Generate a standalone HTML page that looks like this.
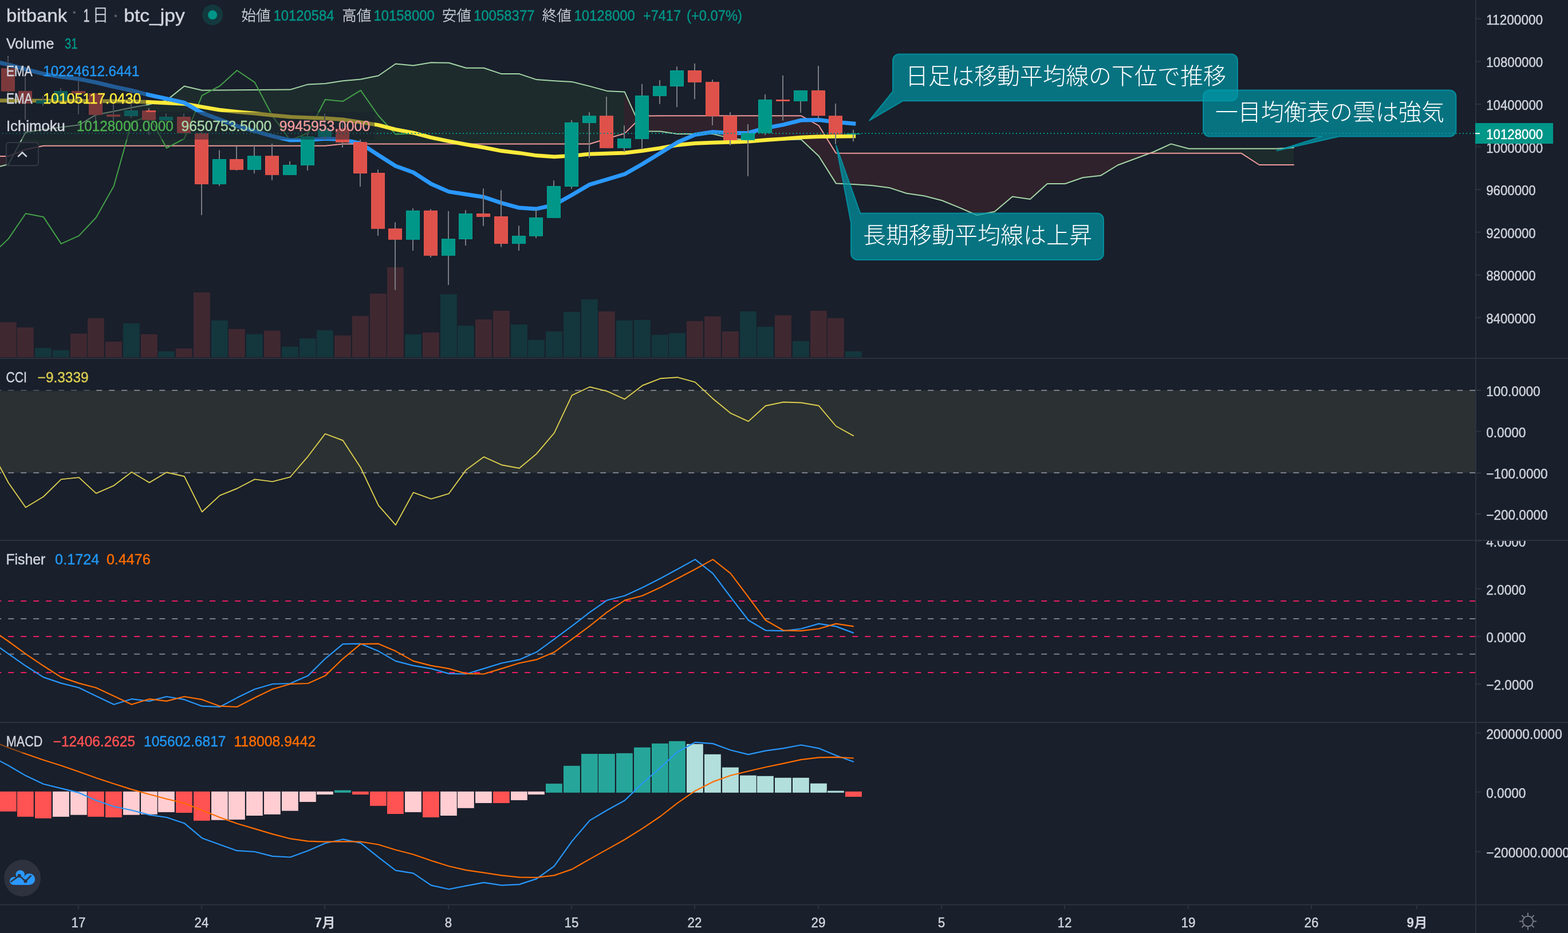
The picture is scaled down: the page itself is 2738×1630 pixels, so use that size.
<!DOCTYPE html>
<html><head><meta charset="utf-8"><title>bitbank btc_jpy</title>
<style>
html,body{margin:0;padding:0;background:#191f2b;}
body{width:2738px;height:1630px;overflow:hidden;}
svg{display:block;will-change:transform;font-family:"Liberation Sans",sans-serif;}
</style></head><body>
<svg width="2738" height="1630" viewBox="0 0 2738 1630">
<defs>
<clipPath id="cp0"><rect x="0" y="0" width="2576" height="625"/></clipPath>
<clipPath id="cp1"><rect x="0" y="627" width="2576" height="316"/></clipPath>
<clipPath id="cp2"><rect x="0" y="945" width="2576" height="316"/></clipPath>
<clipPath id="cp3"><rect x="0" y="1263" width="2576" height="317"/></clipPath>
<clipPath id="cpa2"><rect x="2577" y="945" width="200" height="316"/></clipPath>
</defs>
<rect width="2738" height="1630" fill="#191f2b"/>
<g clip-path="url(#cp0)">
<polygon points="-17.0,294.9 14.0,287.0 14.0,273.0 -17.0,273.0" fill="rgba(244,67,54,0.1)"/>
<polygon points="14.0,287.0 44.0,231.0 75.0,226.5 106.0,222.3 137.0,218.3 167.0,200.4 198.0,194.5 229.0,187.9 260.0,182.4 290.0,175.4 321.0,150.5 352.0,157.7 383.0,157.5 413.0,157.3 444.0,157.0 475.0,156.8 506.0,156.6 537.0,147.4 567.0,146.0 598.0,141.2 629.0,138.5 660.0,132.2 690.0,111.5 721.0,114.4 752.0,109.2 783.0,109.8 813.0,118.8 844.0,118.8 875.0,129.1 906.0,129.1 936.0,139.1 967.0,141.2 998.0,142.9 1029.0,150.6 1059.0,158.9 1090.0,160.6 1090.0,233.1 1059.0,242.3 1029.0,251.5 998.0,251.5 967.0,251.5 936.0,251.5 906.0,251.5 875.0,251.5 844.0,251.5 813.0,251.5 783.0,251.5 752.0,251.5 721.0,251.5 690.0,251.5 660.0,251.5 629.0,251.5 598.0,251.5 567.0,254.8 537.0,254.8 506.0,254.8 475.0,254.8 444.0,254.8 413.0,254.8 383.0,254.8 352.0,254.8 321.0,254.8 290.0,254.8 260.0,254.8 229.0,254.8 198.0,254.8 167.0,254.8 137.0,254.8 106.0,254.8 75.0,254.8 44.0,261.3 14.0,273.0" fill="rgba(67,160,71,0.1)"/>
<polygon points="1090.0,160.6 1121.0,229.3 1152.0,229.5 1182.0,234.1 1213.0,234.1 1244.0,234.1 1275.0,241.5 1306.0,245.0 1336.0,245.0 1367.0,244.6 1398.0,243.5 1429.0,272.8 1459.0,320.4 1490.0,322.0 1521.0,324.0 1552.0,327.9 1582.0,337.7 1613.0,342.3 1644.0,350.3 1675.0,362.9 1705.0,376.0 1736.0,369.8 1767.0,343.5 1798.0,348.0 1828.0,321.0 1859.0,321.0 1890.0,310.2 1921.0,306.8 1951.0,288.5 1982.0,277.0 2013.0,265.5 2013.0,267.8 1982.0,267.8 1951.0,267.8 1921.0,267.8 1890.0,267.8 1859.0,267.8 1828.0,267.8 1798.0,267.8 1767.0,267.8 1736.0,267.8 1705.0,267.8 1675.0,267.8 1644.0,267.8 1613.0,267.8 1582.0,267.8 1552.0,267.8 1521.0,267.8 1490.0,267.8 1459.0,267.6 1429.0,219.5 1398.0,202.2 1367.0,202.2 1336.0,202.2 1306.0,202.2 1275.0,202.2 1244.0,202.2 1213.0,202.2 1182.0,202.2 1152.0,202.2 1121.0,202.4 1090.0,233.1" fill="rgba(244,67,54,0.1)"/>
<polygon points="2013.0,265.5 2044.0,251.4 2075.0,259.8 2105.0,259.8 2136.0,259.8 2167.0,259.8 2198.0,259.8 2228.0,259.8 2259.0,258.0 2259.0,288.0 2228.0,288.0 2198.0,288.0 2167.0,267.8 2136.0,267.8 2105.0,267.8 2075.0,267.8 2044.0,267.8 2013.0,267.8" fill="rgba(67,160,71,0.1)"/>
<rect x="0.0" y="562.9" width="28.8" height="61.1" fill="rgba(222,82,75,0.2)"/>
<rect x="30.0" y="571.9" width="28.8" height="52.1" fill="rgba(222,82,75,0.2)"/>
<rect x="61.0" y="607.8" width="28.8" height="16.2" fill="rgba(0,150,136,0.2)"/>
<rect x="92.0" y="611.7" width="28.8" height="12.3" fill="rgba(0,150,136,0.2)"/>
<rect x="123.0" y="582.8" width="28.8" height="41.2" fill="rgba(222,82,75,0.2)"/>
<rect x="153.0" y="555.8" width="28.8" height="68.2" fill="rgba(222,82,75,0.2)"/>
<rect x="184.0" y="596.9" width="28.8" height="27.1" fill="rgba(222,82,75,0.2)"/>
<rect x="215.0" y="564.8" width="28.8" height="59.2" fill="rgba(0,150,136,0.2)"/>
<rect x="246.0" y="584.0" width="28.8" height="40.0" fill="rgba(222,82,75,0.2)"/>
<rect x="276.0" y="613.8" width="28.8" height="10.2" fill="rgba(0,150,136,0.2)"/>
<rect x="307.0" y="608.8" width="28.8" height="15.2" fill="rgba(222,82,75,0.2)"/>
<rect x="338.0" y="511.0" width="28.8" height="113.0" fill="rgba(222,82,75,0.2)"/>
<rect x="369.0" y="559.8" width="28.8" height="64.2" fill="rgba(0,150,136,0.2)"/>
<rect x="399.0" y="574.8" width="28.8" height="49.2" fill="rgba(222,82,75,0.2)"/>
<rect x="430.0" y="583.8" width="28.8" height="40.2" fill="rgba(0,150,136,0.2)"/>
<rect x="461.0" y="577.7" width="28.8" height="46.3" fill="rgba(222,82,75,0.2)"/>
<rect x="492.0" y="605.7" width="28.8" height="18.3" fill="rgba(0,150,136,0.2)"/>
<rect x="523.0" y="591.1" width="28.8" height="32.9" fill="rgba(0,150,136,0.2)"/>
<rect x="553.0" y="576.9" width="28.8" height="47.1" fill="rgba(0,150,136,0.2)"/>
<rect x="584.0" y="586.1" width="28.8" height="37.9" fill="rgba(222,82,75,0.2)"/>
<rect x="615.0" y="552.1" width="28.8" height="71.9" fill="rgba(222,82,75,0.2)"/>
<rect x="646.0" y="512.9" width="28.8" height="111.1" fill="rgba(222,82,75,0.2)"/>
<rect x="676.0" y="467.0" width="28.8" height="157.0" fill="rgba(222,82,75,0.2)"/>
<rect x="707.0" y="584.0" width="28.8" height="40.0" fill="rgba(0,150,136,0.2)"/>
<rect x="738.0" y="580.9" width="28.8" height="43.1" fill="rgba(222,82,75,0.2)"/>
<rect x="769.0" y="513.9" width="28.8" height="110.1" fill="rgba(0,150,136,0.2)"/>
<rect x="799.0" y="569.0" width="28.8" height="55.0" fill="rgba(0,150,136,0.2)"/>
<rect x="830.0" y="557.9" width="28.8" height="66.1" fill="rgba(222,82,75,0.2)"/>
<rect x="861.0" y="542.9" width="28.8" height="81.1" fill="rgba(222,82,75,0.2)"/>
<rect x="892.0" y="566.9" width="28.8" height="57.1" fill="rgba(0,150,136,0.2)"/>
<rect x="922.0" y="593.8" width="28.8" height="30.2" fill="rgba(0,150,136,0.2)"/>
<rect x="953.0" y="579.0" width="28.8" height="45.0" fill="rgba(0,150,136,0.2)"/>
<rect x="984.0" y="544.8" width="28.8" height="79.2" fill="rgba(0,150,136,0.2)"/>
<rect x="1015.0" y="522.9" width="28.8" height="101.1" fill="rgba(0,150,136,0.2)"/>
<rect x="1045.0" y="544.0" width="28.8" height="80.0" fill="rgba(222,82,75,0.2)"/>
<rect x="1076.0" y="559.8" width="28.8" height="64.2" fill="rgba(0,150,136,0.2)"/>
<rect x="1107.0" y="558.8" width="28.8" height="65.2" fill="rgba(0,150,136,0.2)"/>
<rect x="1138.0" y="584.8" width="28.8" height="39.2" fill="rgba(0,150,136,0.2)"/>
<rect x="1168.0" y="581.9" width="28.8" height="42.1" fill="rgba(0,150,136,0.2)"/>
<rect x="1199.0" y="560.9" width="28.8" height="63.1" fill="rgba(222,82,75,0.2)"/>
<rect x="1230.0" y="552.7" width="28.8" height="71.3" fill="rgba(222,82,75,0.2)"/>
<rect x="1261.0" y="579.0" width="28.8" height="45.0" fill="rgba(222,82,75,0.2)"/>
<rect x="1292.0" y="544.0" width="28.8" height="80.0" fill="rgba(0,150,136,0.2)"/>
<rect x="1322.0" y="570.9" width="28.8" height="53.1" fill="rgba(0,150,136,0.2)"/>
<rect x="1353.0" y="550.8" width="28.8" height="73.2" fill="rgba(222,82,75,0.2)"/>
<rect x="1384.0" y="595.9" width="28.8" height="28.1" fill="rgba(0,150,136,0.2)"/>
<rect x="1415.0" y="542.9" width="28.8" height="81.1" fill="rgba(222,82,75,0.2)"/>
<rect x="1445.0" y="555.8" width="28.8" height="68.2" fill="rgba(222,82,75,0.2)"/>
<rect x="1476.0" y="613.8" width="28.8" height="10.2" fill="rgba(0,150,136,0.2)"/>
<polyline points="-16.2,294.9 14.8,287.0 44.8,231.0 75.8,226.5 106.8,222.3 137.8,218.3 167.8,200.4 198.8,194.5 229.8,187.9 260.8,182.4 290.8,175.4 321.8,150.5 352.8,157.7 383.8,157.5 413.8,157.3 444.8,157.0 475.8,156.8 506.8,156.6 537.8,147.4 567.8,146.0 598.8,141.2 629.8,138.5 660.8,132.2 690.8,111.5 721.8,114.4 752.8,109.2 783.8,109.8 813.8,118.8 844.8,118.8 875.8,129.1 906.8,129.1 936.8,139.1 967.8,141.2 998.8,142.9 1029.8,150.6 1059.8,158.9 1090.8,160.6 1121.8,229.3 1152.8,229.5 1182.8,234.1 1213.8,234.1 1244.8,234.1 1275.8,241.5 1306.8,245.0 1336.8,245.0 1367.8,244.6 1398.8,243.5 1429.8,272.8 1459.8,320.4 1490.8,322.0 1521.8,324.0 1552.8,327.9 1582.8,337.7 1613.8,342.3 1644.8,350.3 1675.8,362.9 1705.8,376.0 1736.8,369.8 1767.8,343.5 1798.8,348.0 1828.8,321.0 1859.8,321.0 1890.8,310.2 1921.8,306.8 1951.8,288.5 1982.8,277.0 2013.8,265.5 2044.8,251.4 2075.8,259.8 2105.8,259.8 2136.8,259.8 2167.8,259.8 2198.8,259.8 2228.8,259.8 2259.8,258.0" fill="none" stroke="#a5d6a7" stroke-width="2" stroke-linejoin="round"/>
<polyline points="-16.2,273.0 14.8,273.0 44.8,261.3 75.8,254.8 106.8,254.8 137.8,254.8 167.8,254.8 198.8,254.8 229.8,254.8 260.8,254.8 290.8,254.8 321.8,254.8 352.8,254.8 383.8,254.8 413.8,254.8 444.8,254.8 475.8,254.8 506.8,254.8 537.8,254.8 567.8,254.8 598.8,251.5 629.8,251.5 660.8,251.5 690.8,251.5 721.8,251.5 752.8,251.5 783.8,251.5 813.8,251.5 844.8,251.5 875.8,251.5 906.8,251.5 936.8,251.5 967.8,251.5 998.8,251.5 1029.8,251.5 1059.8,242.3 1090.8,233.1 1121.8,202.4 1152.8,202.2 1182.8,202.2 1213.8,202.2 1244.8,202.2 1275.8,202.2 1306.8,202.2 1336.8,202.2 1367.8,202.2 1398.8,202.2 1429.8,219.5 1459.8,267.6 1490.8,267.8 1521.8,267.8 1552.8,267.8 1582.8,267.8 1613.8,267.8 1644.8,267.8 1675.8,267.8 1705.8,267.8 1736.8,267.8 1767.8,267.8 1798.8,267.8 1828.8,267.8 1859.8,267.8 1890.8,267.8 1921.8,267.8 1951.8,267.8 1982.8,267.8 2013.8,267.8 2044.8,267.8 2075.8,267.8 2105.8,267.8 2136.8,267.8 2167.8,267.8 2198.8,288.0 2228.8,288.0 2259.8,288.0" fill="none" stroke="#ef9a9a" stroke-width="2" stroke-linejoin="round"/>
<polyline points="-16.2,446.7 14.8,417.1 44.8,373.0 75.8,378.9 106.8,425.9 137.8,411.9 167.8,380.0 198.8,325.0 229.8,213.9 260.8,202.2 290.8,258.8 321.8,242.1 352.8,166.9 383.8,150.2 413.8,123.0 444.8,143.9 475.8,202.8 506.8,245.0 537.8,232.5 567.8,174.0 598.8,176.9 629.8,157.9 660.8,202.2 690.8,234.6 721.8,233.3" fill="none" stroke="#43a047" stroke-width="2" stroke-linejoin="round"/>
<polyline points="-16.2,175.6 14.8,175.6 44.8,175.8 75.8,176.0 106.8,176.2 137.8,176.4 167.8,176.6 198.8,176.8 229.8,177.2 260.8,178.4 290.8,179.8 321.8,181.4 352.8,186.8 383.8,192.1 413.8,195.3 444.8,198.2 475.8,201.3 506.8,204.2 537.8,205.5 567.8,206.6 598.8,208.9 629.8,213.5 660.8,218.5 690.8,226.3 721.8,232.1 752.8,240.3 783.8,246.7 813.8,252.4 844.8,257.6 875.8,263.7 906.8,267.3 936.8,271.7 967.8,273.8 998.8,272.0 1029.8,269.2 1059.8,268.2 1090.8,267.1 1121.8,263.4 1152.8,258.8 1182.8,253.4 1213.8,250.4 1244.8,249.2 1275.8,248.3 1306.8,247.1 1336.8,244.6 1367.8,242.5 1398.8,240.0 1429.8,238.7 1459.8,238.3 1490.8,237.9" fill="none" stroke="#ffeb3b" stroke-width="6.7" stroke-linejoin="round" stroke-linecap="square"/>
<polyline points="-16.2,106.0 14.8,112.8 44.8,121.1 75.8,129.0 106.8,134.2 137.8,138.0 167.8,144.0 198.8,151.5 229.8,158.0 260.8,166.0 290.8,172.5 321.8,179.4 352.8,197.4 383.8,208.9 413.8,220.1 444.8,229.2 475.8,237.8 506.8,244.8 537.8,244.4 567.8,242.3 598.8,243.6 629.8,250.7 660.8,271.0 690.8,290.0 721.8,301.3 752.8,321.3 783.8,334.9 813.8,339.5 844.8,344.3 875.8,354.6 906.8,363.1 936.8,364.9 967.8,358.0 998.8,340.5 1029.8,322.3 1059.8,313.5 1090.8,304.2 1121.8,286.5 1152.8,267.6 1182.8,248.8 1213.8,235.2 1244.8,230.5 1275.8,232.5 1306.8,232.2 1336.8,223.7 1367.8,217.9 1398.8,210.1 1429.8,209.5 1459.8,213.3 1490.8,216.0" fill="none" stroke="#2a98ff" stroke-width="7" stroke-linejoin="round" stroke-linecap="square"/>
<rect x="13.0" y="98.2" width="2" height="63.8" fill="#7a7b81"/>
<rect x="2.0" y="119.2" width="24" height="40.4" fill="#ea574f"/>
<rect x="3.0" y="120.2" width="22" height="38.4" fill="#de524b"/>
<rect x="43.0" y="134.9" width="2" height="74.1" fill="#7a7b81"/>
<rect x="32.0" y="158.9" width="24" height="22.0" fill="#ea574f"/>
<rect x="33.0" y="159.9" width="22" height="20.0" fill="#de524b"/>
<rect x="74.0" y="168.3" width="2" height="16.7" fill="#7a7b81"/>
<rect x="63.0" y="175.2" width="24" height="5.7" fill="#00a595"/>
<rect x="64.0" y="176.2" width="22" height="3.7" fill="#009688"/>
<rect x="105.0" y="153.7" width="2" height="21.9" fill="#7a7b81"/>
<rect x="94.0" y="159.0" width="24" height="16.6" fill="#00a595"/>
<rect x="95.0" y="160.0" width="22" height="14.6" fill="#009688"/>
<rect x="136.0" y="141.2" width="2" height="58.5" fill="#7a7b81"/>
<rect x="125.0" y="159.0" width="24" height="4.5" fill="#ea574f"/>
<rect x="126.0" y="160.0" width="22" height="2.5" fill="#de524b"/>
<rect x="166.0" y="163.1" width="2" height="65.8" fill="#7a7b81"/>
<rect x="155.0" y="163.1" width="24" height="37.6" fill="#ea574f"/>
<rect x="156.0" y="164.1" width="22" height="35.6" fill="#de524b"/>
<rect x="197.0" y="179.8" width="2" height="31.4" fill="#7a7b81"/>
<rect x="186.0" y="200.1" width="24" height="3.8" fill="#ea574f"/>
<rect x="187.0" y="201.1" width="22" height="1.8" fill="#de524b"/>
<rect x="228.0" y="157.9" width="2" height="48.0" fill="#7a7b81"/>
<rect x="217.0" y="193.0" width="24" height="9.8" fill="#00a595"/>
<rect x="218.0" y="194.0" width="22" height="7.8" fill="#009688"/>
<rect x="259.0" y="189.2" width="2" height="46.4" fill="#7a7b81"/>
<rect x="248.0" y="193.0" width="24" height="16.7" fill="#ea574f"/>
<rect x="249.0" y="194.0" width="22" height="14.7" fill="#de524b"/>
<rect x="289.0" y="198.2" width="2" height="14.8" fill="#7a7b81"/>
<rect x="278.0" y="204.0" width="24" height="6.1" fill="#00a595"/>
<rect x="279.0" y="205.0" width="22" height="4.1" fill="#009688"/>
<rect x="320.0" y="198.2" width="2" height="34.5" fill="#7a7b81"/>
<rect x="309.0" y="204.0" width="24" height="28.7" fill="#ea574f"/>
<rect x="310.0" y="205.0" width="22" height="26.7" fill="#de524b"/>
<rect x="351.0" y="231.0" width="2" height="144.8" fill="#7a7b81"/>
<rect x="340.0" y="232.7" width="24" height="89.2" fill="#ea574f"/>
<rect x="341.0" y="233.7" width="22" height="87.2" fill="#de524b"/>
<rect x="382.0" y="262.3" width="2" height="62.7" fill="#7a7b81"/>
<rect x="371.0" y="278.0" width="24" height="43.9" fill="#00a595"/>
<rect x="372.0" y="279.0" width="22" height="41.9" fill="#009688"/>
<rect x="412.0" y="256.0" width="2" height="41.9" fill="#7a7b81"/>
<rect x="401.0" y="278.0" width="24" height="18.8" fill="#ea574f"/>
<rect x="402.0" y="279.0" width="22" height="16.8" fill="#de524b"/>
<rect x="443.0" y="253.4" width="2" height="49.7" fill="#7a7b81"/>
<rect x="432.0" y="272.2" width="24" height="24.6" fill="#00a595"/>
<rect x="433.0" y="273.2" width="22" height="22.6" fill="#009688"/>
<rect x="474.0" y="250.9" width="2" height="64.1" fill="#7a7b81"/>
<rect x="463.0" y="272.2" width="24" height="33.6" fill="#ea574f"/>
<rect x="464.0" y="273.2" width="22" height="31.6" fill="#de524b"/>
<rect x="505.0" y="281.8" width="2" height="24.0" fill="#7a7b81"/>
<rect x="494.0" y="288.0" width="24" height="17.8" fill="#00a595"/>
<rect x="495.0" y="289.0" width="22" height="15.8" fill="#009688"/>
<rect x="536.0" y="233.0" width="2" height="64.9" fill="#7a7b81"/>
<rect x="525.0" y="238.3" width="24" height="50.6" fill="#00a595"/>
<rect x="526.0" y="239.3" width="22" height="48.6" fill="#009688"/>
<rect x="566.0" y="198.2" width="2" height="45.3" fill="#7a7b81"/>
<rect x="555.0" y="225.8" width="24" height="12.9" fill="#00a595"/>
<rect x="556.0" y="226.8" width="22" height="10.9" fill="#009688"/>
<rect x="597.0" y="213.0" width="2" height="44.7" fill="#7a7b81"/>
<rect x="586.0" y="224.7" width="24" height="24.1" fill="#ea574f"/>
<rect x="587.0" y="225.7" width="22" height="22.1" fill="#de524b"/>
<rect x="628.0" y="243.5" width="2" height="82.5" fill="#7a7b81"/>
<rect x="617.0" y="248.1" width="24" height="54.9" fill="#ea574f"/>
<rect x="618.0" y="249.1" width="22" height="52.9" fill="#de524b"/>
<rect x="659.0" y="296.2" width="2" height="115.7" fill="#7a7b81"/>
<rect x="648.0" y="302.0" width="24" height="97.8" fill="#ea574f"/>
<rect x="649.0" y="303.0" width="22" height="95.8" fill="#de524b"/>
<rect x="689.0" y="388.3" width="2" height="118.3" fill="#7a7b81"/>
<rect x="678.0" y="399.2" width="24" height="19.6" fill="#ea574f"/>
<rect x="679.0" y="400.2" width="22" height="17.6" fill="#de524b"/>
<rect x="720.0" y="364.0" width="2" height="73.8" fill="#7a7b81"/>
<rect x="709.0" y="367.8" width="24" height="51.0" fill="#00a595"/>
<rect x="710.0" y="368.8" width="22" height="49.0" fill="#009688"/>
<rect x="751.0" y="365.3" width="2" height="84.6" fill="#7a7b81"/>
<rect x="740.0" y="367.8" width="24" height="78.9" fill="#ea574f"/>
<rect x="741.0" y="368.8" width="22" height="76.9" fill="#de524b"/>
<rect x="782.0" y="368.9" width="2" height="129.0" fill="#7a7b81"/>
<rect x="771.0" y="417.1" width="24" height="29.6" fill="#00a595"/>
<rect x="772.0" y="418.1" width="22" height="27.6" fill="#009688"/>
<rect x="812.0" y="367.2" width="2" height="61.8" fill="#7a7b81"/>
<rect x="801.0" y="373.0" width="24" height="45.0" fill="#00a595"/>
<rect x="802.0" y="374.0" width="22" height="43.0" fill="#009688"/>
<rect x="843.0" y="329.2" width="2" height="65.8" fill="#7a7b81"/>
<rect x="832.0" y="373.0" width="24" height="5.9" fill="#ea574f"/>
<rect x="833.0" y="374.0" width="22" height="3.9" fill="#de524b"/>
<rect x="874.0" y="332.3" width="2" height="99.4" fill="#7a7b81"/>
<rect x="863.0" y="378.0" width="24" height="47.9" fill="#ea574f"/>
<rect x="864.0" y="379.0" width="22" height="45.9" fill="#de524b"/>
<rect x="905.0" y="394.2" width="2" height="43.6" fill="#7a7b81"/>
<rect x="894.0" y="411.9" width="24" height="14.0" fill="#00a595"/>
<rect x="895.0" y="412.9" width="22" height="12.0" fill="#009688"/>
<rect x="935.0" y="365.3" width="2" height="50.6" fill="#7a7b81"/>
<rect x="924.0" y="380.0" width="24" height="32.7" fill="#00a595"/>
<rect x="925.0" y="381.0" width="22" height="30.7" fill="#009688"/>
<rect x="966.0" y="315.2" width="2" height="65.6" fill="#7a7b81"/>
<rect x="955.0" y="325.0" width="24" height="55.8" fill="#00a595"/>
<rect x="956.0" y="326.0" width="22" height="53.8" fill="#009688"/>
<rect x="997.0" y="210.0" width="2" height="119.8" fill="#7a7b81"/>
<rect x="986.0" y="213.9" width="24" height="112.1" fill="#00a595"/>
<rect x="987.0" y="214.9" width="22" height="110.1" fill="#009688"/>
<rect x="1028.0" y="196.1" width="2" height="79.8" fill="#7a7b81"/>
<rect x="1017.0" y="202.2" width="24" height="12.7" fill="#00a595"/>
<rect x="1018.0" y="203.2" width="22" height="10.7" fill="#009688"/>
<rect x="1058.0" y="169.0" width="2" height="89.8" fill="#7a7b81"/>
<rect x="1047.0" y="202.2" width="24" height="56.6" fill="#ea574f"/>
<rect x="1048.0" y="203.2" width="22" height="54.6" fill="#de524b"/>
<rect x="1089.0" y="219.1" width="2" height="46.4" fill="#7a7b81"/>
<rect x="1078.0" y="242.1" width="24" height="16.7" fill="#00a595"/>
<rect x="1079.0" y="243.1" width="22" height="14.7" fill="#009688"/>
<rect x="1120.0" y="146.8" width="2" height="114.1" fill="#7a7b81"/>
<rect x="1109.0" y="166.9" width="24" height="76.0" fill="#00a595"/>
<rect x="1110.0" y="167.9" width="22" height="74.0" fill="#009688"/>
<rect x="1151.0" y="140.1" width="2" height="41.8" fill="#7a7b81"/>
<rect x="1140.0" y="150.2" width="24" height="17.7" fill="#00a595"/>
<rect x="1141.0" y="151.2" width="22" height="15.7" fill="#009688"/>
<rect x="1181.0" y="116.1" width="2" height="71.0" fill="#7a7b81"/>
<rect x="1170.0" y="123.0" width="24" height="28.0" fill="#00a595"/>
<rect x="1171.0" y="124.0" width="22" height="26.0" fill="#009688"/>
<rect x="1212.0" y="110.9" width="2" height="62.2" fill="#7a7b81"/>
<rect x="1201.0" y="123.0" width="24" height="20.9" fill="#ea574f"/>
<rect x="1202.0" y="124.0" width="22" height="18.9" fill="#de524b"/>
<rect x="1243.0" y="139.1" width="2" height="79.8" fill="#7a7b81"/>
<rect x="1232.0" y="143.1" width="24" height="59.7" fill="#ea574f"/>
<rect x="1233.0" y="144.1" width="22" height="57.7" fill="#de524b"/>
<rect x="1274.0" y="196.1" width="2" height="57.9" fill="#7a7b81"/>
<rect x="1263.0" y="202.2" width="24" height="42.8" fill="#ea574f"/>
<rect x="1264.0" y="203.2" width="22" height="40.8" fill="#de524b"/>
<rect x="1305.0" y="217.0" width="2" height="90.9" fill="#7a7b81"/>
<rect x="1294.0" y="232.5" width="24" height="12.5" fill="#00a595"/>
<rect x="1295.0" y="233.5" width="22" height="10.5" fill="#009688"/>
<rect x="1335.0" y="164.8" width="2" height="71.0" fill="#7a7b81"/>
<rect x="1324.0" y="174.0" width="24" height="58.5" fill="#00a595"/>
<rect x="1325.0" y="175.0" width="22" height="56.5" fill="#009688"/>
<rect x="1366.0" y="131.8" width="2" height="78.9" fill="#7a7b81"/>
<rect x="1355.0" y="174.0" width="24" height="2.9" fill="#ea574f"/>
<rect x="1397.0" y="157.9" width="2" height="39.1" fill="#7a7b81"/>
<rect x="1386.0" y="157.9" width="24" height="19.0" fill="#00a595"/>
<rect x="1387.0" y="158.9" width="22" height="17.0" fill="#009688"/>
<rect x="1428.0" y="115.1" width="2" height="92.9" fill="#7a7b81"/>
<rect x="1417.0" y="157.9" width="24" height="44.3" fill="#ea574f"/>
<rect x="1418.0" y="158.9" width="22" height="42.3" fill="#de524b"/>
<rect x="1458.0" y="180.9" width="2" height="71.0" fill="#7a7b81"/>
<rect x="1447.0" y="202.2" width="24" height="32.4" fill="#ea574f"/>
<rect x="1448.0" y="203.2" width="22" height="30.4" fill="#de524b"/>
<rect x="1489.0" y="226.8" width="2" height="20.3" fill="#7a7b81"/>
<rect x="1478.0" y="233.3" width="24" height="1.6" fill="#00a595"/>
<line x1="4" y1="233" x2="2577" y2="233" stroke="#009688" stroke-width="2" stroke-dasharray="2 4"/>
<path d="M1570,94.4 H2150 A11,11 0 0 1 2161,105.4 V165.2 A11,11 0 0 1 2150,176.2 H1576.8 L1518,210.6 L1559,159.7 V105.4 A11,11 0 0 1 1570,94.4 Z" fill="rgba(0,151,167,0.7)" stroke="rgba(0,160,178,0.75)" stroke-width="2" stroke-linejoin="round"/>
<text x="1581" y="147" font-size="40" font-weight="300" fill="#ffffff" font-family="'Liberation Sans','Noto Sans CJK JP',sans-serif">日足は移動平均線の下位で推移</text>
<path d="M1502.3,372.6 H1916 A11,11 0 0 1 1927,383.6 V443 A11,11 0 0 1 1916,454 H1497 A11,11 0 0 1 1486,443 V389.3 L1460,254.1 Z" fill="rgba(0,151,167,0.7)" stroke="rgba(0,160,178,0.75)" stroke-width="2" stroke-linejoin="round"/>
<text x="1507" y="425" font-size="40" font-weight="300" fill="#ffffff" font-family="'Liberation Sans','Noto Sans CJK JP',sans-serif">長期移動平均線は上昇</text>
<path d="M2112,157.4 H2531.5 A11,11 0 0 1 2542.5,168.4 V227.5 A11,11 0 0 1 2531.5,238.5 H2338.2 L2229.4,263.3 L2308.4,238.5 H2112 A11,11 0 0 1 2101,227.5 V168.4 A11,11 0 0 1 2112,157.4 Z" fill="rgba(0,151,167,0.7)" stroke="rgba(0,160,178,0.75)" stroke-width="2" stroke-linejoin="round"/>
<text x="2122" y="210" font-size="40" font-weight="300" fill="#ffffff" font-family="'Liberation Sans','Noto Sans CJK JP',sans-serif">一目均衡表の雲は強気</text>
</g>
<g clip-path="url(#cp1)">
<rect x="0" y="682" width="2577" height="144" fill="#2b3032"/>
<line x1="-7.8" y1="681.9" x2="2577" y2="681.9" stroke="#7c7f8a" stroke-width="2" stroke-dasharray="10 12"/>
<line x1="-7.8" y1="826.1" x2="2577" y2="826.1" stroke="#7c7f8a" stroke-width="2" stroke-dasharray="10 12"/>
<polyline points="-16.2,785.4 14.8,843.5 44.8,886.5 75.8,867.7 106.8,837.4 137.8,834.1 167.8,861.9 198.8,848.3 229.8,824.7 260.8,843.1 290.8,825.3 321.8,832.2 352.8,894.3 383.8,865.6 413.8,853.5 444.8,837.4 475.8,841.4 506.8,833.3 537.8,797.3 567.8,757.8 598.8,769.5 629.8,817.0 660.8,882.8 690.8,917.2 721.8,860.4 752.8,871.7 783.8,862.3 813.8,821.1 844.8,798.2 875.8,812.2 906.8,818.0 936.8,792.9 967.8,756.4 998.8,690.6 1029.8,676.0 1059.8,683.3 1090.8,697.3 1121.8,673.5 1152.8,661.3 1182.8,659.2 1213.8,667.6 1244.8,696.4 1275.8,721.9 1306.8,736.1 1336.8,709.0 1367.8,702.5 1398.8,703.5 1429.8,708.8 1459.8,744.5 1490.8,761.6" fill="none" stroke="#dbce4f" stroke-width="1.9" stroke-linejoin="round"/>
</g>
<g clip-path="url(#cp2)">
<line x1="-7.8" y1="1050" x2="2577" y2="1050" stroke="#e91e63" stroke-width="2" stroke-dasharray="10 12"/>
<line x1="-7.8" y1="1081" x2="2577" y2="1081" stroke="#7c7f8a" stroke-width="2" stroke-dasharray="10 12"/>
<line x1="-7.8" y1="1111.9" x2="2577" y2="1111.9" stroke="#e91e63" stroke-width="2" stroke-dasharray="10 12"/>
<line x1="-7.8" y1="1142.8" x2="2577" y2="1142.8" stroke="#7c7f8a" stroke-width="2" stroke-dasharray="10 12"/>
<line x1="-7.8" y1="1175" x2="2577" y2="1175" stroke="#e91e63" stroke-width="2" stroke-dasharray="10 12"/>
<polyline points="-16.2,1120.5 14.8,1142.4 44.8,1163.3 75.8,1183.1 106.8,1193.6 137.8,1201.5 167.8,1215.9 198.8,1230.8 229.8,1221.2 260.8,1224.9 290.8,1217.0 321.8,1222.2 352.8,1233.7 383.8,1235.0 413.8,1219.1 444.8,1204.0 475.8,1195.0 506.8,1194.0 537.8,1180.6 567.8,1150.8 598.8,1125.1 629.8,1124.7 660.8,1137.6 690.8,1154.9 721.8,1162.9 752.8,1168.1 783.8,1176.9 813.8,1177.5 844.8,1168.1 875.8,1158.5 906.8,1152.4 936.8,1139.3 967.8,1116.7 998.8,1093.7 1029.8,1069.7 1059.8,1048.8 1090.8,1040.7 1121.8,1026.5 1152.8,1010.8 1182.8,994.5 1213.8,977.4 1244.8,1001.8 1275.8,1043.2 1306.8,1083.5 1336.8,1101.3 1367.8,1102.1 1398.8,1098.5 1429.8,1089.6 1459.8,1094.4 1490.8,1105.9" fill="none" stroke="#2797fb" stroke-width="2.2" stroke-linejoin="round"/>
<polyline points="-16.2,1099.0 14.8,1120.5 44.8,1142.4 75.8,1163.3 106.8,1183.1 137.8,1193.6 167.8,1201.5 198.8,1215.9 229.8,1230.8 260.8,1221.2 290.8,1224.9 321.8,1217.0 352.8,1222.2 383.8,1233.7 413.8,1235.0 444.8,1219.1 475.8,1204.0 506.8,1195.0 537.8,1194.0 567.8,1180.6 598.8,1150.8 629.8,1125.1 660.8,1124.7 690.8,1137.6 721.8,1154.9 752.8,1162.9 783.8,1168.1 813.8,1176.9 844.8,1177.5 875.8,1168.1 906.8,1158.5 936.8,1152.4 967.8,1139.3 998.8,1116.7 1029.8,1093.7 1059.8,1069.7 1090.8,1048.8 1121.8,1040.7 1152.8,1026.5 1182.8,1010.8 1213.8,994.5 1244.8,977.4 1275.8,1001.8 1306.8,1043.2 1336.8,1083.5 1367.8,1101.3 1398.8,1102.1 1429.8,1098.5 1459.8,1089.6 1490.8,1094.4" fill="none" stroke="#ff6d00" stroke-width="2.2" stroke-linejoin="round"/>
</g>
<g clip-path="url(#cp3)">
<rect x="0.0" y="1382.8" width="28.8" height="34.9" fill="#ff5252"/>
<rect x="30.0" y="1382.8" width="28.8" height="44.1" fill="#ff5252"/>
<rect x="61.0" y="1382.8" width="28.8" height="46.9" fill="#ff5252"/>
<rect x="92.0" y="1382.8" width="28.8" height="44.1" fill="#ffcdd2"/>
<rect x="123.0" y="1382.8" width="28.8" height="40.9" fill="#ffcdd2"/>
<rect x="153.0" y="1382.8" width="28.8" height="44.1" fill="#ff5252"/>
<rect x="184.0" y="1382.8" width="28.8" height="45.2" fill="#ff5252"/>
<rect x="215.0" y="1382.8" width="28.8" height="40.9" fill="#ffcdd2"/>
<rect x="246.0" y="1382.8" width="28.8" height="40.0" fill="#ffcdd2"/>
<rect x="276.0" y="1382.8" width="28.8" height="36.1" fill="#ffcdd2"/>
<rect x="307.0" y="1382.8" width="28.8" height="37.2" fill="#ff5252"/>
<rect x="338.0" y="1382.8" width="28.8" height="51.0" fill="#ff5252"/>
<rect x="369.0" y="1382.8" width="28.8" height="49.9" fill="#ffcdd2"/>
<rect x="399.0" y="1382.8" width="28.8" height="49.1" fill="#ffcdd2"/>
<rect x="430.0" y="1382.8" width="28.8" height="42.2" fill="#ffcdd2"/>
<rect x="461.0" y="1382.8" width="28.8" height="40.0" fill="#ffcdd2"/>
<rect x="492.0" y="1382.8" width="28.8" height="33.8" fill="#ffcdd2"/>
<rect x="523.0" y="1382.8" width="28.8" height="18.2" fill="#ffcdd2"/>
<rect x="553.0" y="1382.8" width="28.8" height="5.3" fill="#ffcdd2"/>
<rect x="584.0" y="1380.6" width="28.8" height="4.2" fill="#26a69a"/>
<rect x="615.0" y="1382.8" width="28.8" height="5.3" fill="#ff5252"/>
<rect x="646.0" y="1382.8" width="28.8" height="25.1" fill="#ff5252"/>
<rect x="676.0" y="1382.8" width="28.8" height="39.2" fill="#ff5252"/>
<rect x="707.0" y="1382.8" width="28.8" height="36.1" fill="#ffcdd2"/>
<rect x="738.0" y="1382.8" width="28.8" height="45.2" fill="#ff5252"/>
<rect x="769.0" y="1382.8" width="28.8" height="42.2" fill="#ffcdd2"/>
<rect x="799.0" y="1382.8" width="28.8" height="29.0" fill="#ffcdd2"/>
<rect x="830.0" y="1382.8" width="28.8" height="20.2" fill="#ffcdd2"/>
<rect x="861.0" y="1382.8" width="28.8" height="20.2" fill="#ff5252"/>
<rect x="892.0" y="1382.8" width="28.8" height="15.2" fill="#ffcdd2"/>
<rect x="922.0" y="1382.8" width="28.8" height="5.3" fill="#ffcdd2"/>
<rect x="953.0" y="1369.1" width="28.8" height="15.7" fill="#26a69a"/>
<rect x="984.0" y="1337.9" width="28.8" height="46.9" fill="#26a69a"/>
<rect x="1015.0" y="1317.0" width="28.8" height="67.8" fill="#26a69a"/>
<rect x="1045.0" y="1317.0" width="28.8" height="67.8" fill="#26a69a"/>
<rect x="1076.0" y="1315.9" width="28.8" height="68.9" fill="#26a69a"/>
<rect x="1107.0" y="1305.8" width="28.8" height="79.0" fill="#26a69a"/>
<rect x="1138.0" y="1298.9" width="28.8" height="85.9" fill="#26a69a"/>
<rect x="1168.0" y="1294.8" width="28.8" height="90.0" fill="#26a69a"/>
<rect x="1199.0" y="1299.9" width="28.8" height="84.9" fill="#b2dfdb"/>
<rect x="1230.0" y="1317.8" width="28.8" height="67.0" fill="#b2dfdb"/>
<rect x="1261.0" y="1340.7" width="28.8" height="44.1" fill="#b2dfdb"/>
<rect x="1292.0" y="1354.7" width="28.8" height="30.1" fill="#b2dfdb"/>
<rect x="1322.0" y="1355.8" width="28.8" height="29.0" fill="#b2dfdb"/>
<rect x="1353.0" y="1358.8" width="28.8" height="26.0" fill="#b2dfdb"/>
<rect x="1384.0" y="1358.8" width="28.8" height="26.0" fill="#b2dfdb"/>
<rect x="1415.0" y="1368.7" width="28.8" height="16.1" fill="#b2dfdb"/>
<rect x="1445.0" y="1381.6" width="28.8" height="3.2" fill="#b2dfdb"/>
<rect x="1476.0" y="1382.8" width="28.8" height="9.2" fill="#ff5252"/>
<polyline points="-16.2,1321.0 14.8,1337.5 44.8,1355.1 75.8,1369.8 106.8,1377.4 137.8,1384.9 167.8,1398.3 198.8,1409.0 229.8,1415.5 260.8,1423.7 290.8,1428.0 321.8,1438.2 352.8,1464.2 383.8,1475.5 413.8,1486.2 444.8,1488.0 475.8,1495.9 506.8,1497.5 537.8,1486.2 567.8,1473.3 598.8,1466.2 629.8,1472.9 660.8,1497.7 690.8,1520.7 721.8,1525.7 752.8,1546.6 783.8,1553.5 813.8,1547.7 844.8,1541.9 875.8,1546.6 906.8,1545.1 936.8,1535.4 967.8,1513.2 998.8,1469.6 1029.8,1433.4 1059.8,1415.5 1090.8,1398.5 1121.8,1368.5 1152.8,1341.5 1182.8,1313.7 1213.8,1296.9 1244.8,1299.1 1275.8,1310.5 1306.8,1318.1 1336.8,1311.6 1367.8,1307.3 1398.8,1301.5 1429.8,1307.3 1459.8,1319.8 1490.8,1331.0" fill="none" stroke="#2797fb" stroke-width="2.2" stroke-linejoin="round"/>
<polyline points="-16.2,1294.0 14.8,1306.2 44.8,1317.0 75.8,1327.8 106.8,1337.5 137.8,1348.2 167.8,1359.0 198.8,1369.2 229.8,1379.1 260.8,1387.7 290.8,1395.7 321.8,1403.2 352.8,1415.5 383.8,1428.0 413.8,1438.8 444.8,1447.9 475.8,1457.1 506.8,1465.2 537.8,1469.6 567.8,1470.7 598.8,1470.1 629.8,1470.5 660.8,1475.5 690.8,1484.7 721.8,1492.7 752.8,1503.5 783.8,1513.2 813.8,1520.1 844.8,1524.6 875.8,1529.4 906.8,1532.6 936.8,1533.0 967.8,1529.4 998.8,1518.6 1029.8,1500.9 1059.8,1484.1 1090.8,1466.8 1121.8,1447.4 1152.8,1426.5 1182.8,1403.2 1213.8,1381.7 1244.8,1365.9 1275.8,1354.7 1306.8,1347.2 1336.8,1340.3 1367.8,1333.8 1398.8,1327.1 1429.8,1323.4 1459.8,1322.8 1490.8,1324.5" fill="none" stroke="#ff6d00" stroke-width="2.2" stroke-linejoin="round"/>
</g>
<rect x="0" y="625" width="2738" height="2" fill="#2e323f"/>
<rect x="0" y="943" width="2738" height="2" fill="#2e323f"/>
<rect x="0" y="1261" width="2738" height="2" fill="#2e323f"/>
<rect x="0" y="1579.6" width="2738" height="2" fill="#2e323f"/>
<rect x="2576" y="0" width="2" height="1630" fill="#2e323f"/>
<rect x="2578" y="31.8" width="8" height="2" fill="#2e323f"/>
<text transform="translate(2595.20,42.89) scale(0.9429,1)" font-size="24" fill="#d1d4dc" stroke="#d1d4dc" stroke-width="0.45">11200000</text>
<rect x="2578" y="106.4" width="8" height="2" fill="#2e323f"/>
<text transform="translate(2595.20,117.46) scale(0.9270,1)" font-size="24" fill="#d1d4dc" stroke="#d1d4dc" stroke-width="0.45">10800000</text>
<rect x="2578" y="180.9" width="8" height="2" fill="#2e323f"/>
<text transform="translate(2595.20,192.03) scale(0.9270,1)" font-size="24" fill="#d1d4dc" stroke="#d1d4dc" stroke-width="0.45">10400000</text>
<rect x="2578" y="255.5" width="8" height="2" fill="#2e323f"/>
<text transform="translate(2595.20,266.60) scale(0.9270,1)" font-size="24" fill="#d1d4dc" stroke="#d1d4dc" stroke-width="0.45">10000000</text>
<rect x="2578" y="330.1" width="8" height="2" fill="#2e323f"/>
<text transform="translate(2595.20,341.17) scale(0.9264,1)" font-size="24" fill="#d1d4dc" stroke="#d1d4dc" stroke-width="0.45">9600000</text>
<rect x="2578" y="404.6" width="8" height="2" fill="#2e323f"/>
<text transform="translate(2595.20,415.74) scale(0.9264,1)" font-size="24" fill="#d1d4dc" stroke="#d1d4dc" stroke-width="0.45">9200000</text>
<rect x="2578" y="479.2" width="8" height="2" fill="#2e323f"/>
<text transform="translate(2595.20,490.31) scale(0.9264,1)" font-size="24" fill="#d1d4dc" stroke="#d1d4dc" stroke-width="0.45">8800000</text>
<rect x="2578" y="553.8" width="8" height="2" fill="#2e323f"/>
<text transform="translate(2595.20,564.88) scale(0.9264,1)" font-size="24" fill="#d1d4dc" stroke="#d1d4dc" stroke-width="0.45">8400000</text>
<rect x="2578" y="680.9" width="8" height="2" fill="#2e323f"/>
<text transform="translate(2595.20,692.00) scale(0.9442,1)" font-size="24" fill="#d1d4dc" stroke="#d1d4dc" stroke-width="0.45">100.0000</text>
<rect x="2578" y="752.6" width="8" height="2" fill="#2e323f"/>
<text transform="translate(2595.20,763.70) scale(0.9436,1)" font-size="24" fill="#d1d4dc" stroke="#d1d4dc" stroke-width="0.45">0.0000</text>
<rect x="2578" y="825.2" width="8" height="2" fill="#2e323f"/>
<text transform="translate(2595.20,836.30) scale(0.9420,1)" font-size="24" fill="#d1d4dc" stroke="#d1d4dc" stroke-width="0.45">−100.0000</text>
<rect x="2578" y="897.0" width="8" height="2" fill="#2e323f"/>
<text transform="translate(2595.20,908.10) scale(0.9420,1)" font-size="24" fill="#d1d4dc" stroke="#d1d4dc" stroke-width="0.45">−200.0000</text>
<g clip-path="url(#cpa2)">
<rect x="2578" y="944.0" width="8" height="2" fill="#2e323f"/>
<text transform="translate(2595.20,955.10) scale(0.9436,1)" font-size="24" fill="#d1d4dc" stroke="#d1d4dc" stroke-width="0.45">4.0000</text>
</g>
<rect x="2578" y="1027.7" width="8" height="2" fill="#2e323f"/>
<text transform="translate(2595.20,1038.80) scale(0.9436,1)" font-size="24" fill="#d1d4dc" stroke="#d1d4dc" stroke-width="0.45">2.0000</text>
<rect x="2578" y="1110.9" width="8" height="2" fill="#2e323f"/>
<text transform="translate(2595.20,1122.00) scale(0.9436,1)" font-size="24" fill="#d1d4dc" stroke="#d1d4dc" stroke-width="0.45">0.0000</text>
<rect x="2578" y="1193.8" width="8" height="2" fill="#2e323f"/>
<text transform="translate(2595.20,1204.90) scale(0.9442,1)" font-size="24" fill="#d1d4dc" stroke="#d1d4dc" stroke-width="0.45">−2.0000</text>
<rect x="2578" y="1279.7" width="8" height="2" fill="#2e323f"/>
<text transform="translate(2595.20,1290.80) scale(0.9461,1)" font-size="24" fill="#d1d4dc" stroke="#d1d4dc" stroke-width="0.45">200000.0000</text>
<rect x="2578" y="1382.6" width="8" height="2" fill="#2e323f"/>
<text transform="translate(2595.20,1393.70) scale(0.9436,1)" font-size="24" fill="#d1d4dc" stroke="#d1d4dc" stroke-width="0.45">0.0000</text>
<rect x="2578" y="1487.0" width="8" height="2" fill="#2e323f"/>
<text transform="translate(2595.20,1498.10) scale(0.9455,1)" font-size="24" fill="#d1d4dc" stroke="#d1d4dc" stroke-width="0.45">−200000.0000</text>
<rect x="2576" y="215" width="136" height="36" fill="#009688"/>
<rect x="2576" y="232.2" width="8" height="2" fill="#ffffff"/>
<text transform="translate(2595.20,242.70) scale(0.9270,1)" font-size="24" fill="#ffffff" stroke="#ffffff" stroke-width="0.45">10128000</text>
<rect x="136.0" y="1581.6" width="2" height="6.5" fill="#2e323f"/>
<text transform="translate(124.61,1619.80) scale(0.9300,1)" font-size="24" fill="#d1d4dc" stroke="#d1d4dc" stroke-width="0.45">17</text>
<rect x="351.0" y="1581.6" width="2" height="6.5" fill="#2e323f"/>
<text transform="translate(339.61,1619.80) scale(0.9300,1)" font-size="24" fill="#d1d4dc" stroke="#d1d4dc" stroke-width="0.45">24</text>
<rect x="566.0" y="1581.6" width="2" height="6.5" fill="#2e323f"/>
<text transform="translate(549.56,1619.80) scale(0.9300,1)" font-size="24" fill="#d1d4dc" stroke="#d1d4dc" stroke-width="0.2" font-weight="bold">7</text>
<text x="562.44" y="1620.1" font-size="23" font-weight="bold" fill="#d1d4dc" font-family="'Liberation Sans','Noto Sans CJK JP',sans-serif">月</text>
<rect x="782.0" y="1581.6" width="2" height="6.5" fill="#2e323f"/>
<text transform="translate(776.81,1619.80) scale(0.9300,1)" font-size="24" fill="#d1d4dc" stroke="#d1d4dc" stroke-width="0.45">8</text>
<rect x="997.0" y="1581.6" width="2" height="6.5" fill="#2e323f"/>
<text transform="translate(985.61,1619.80) scale(0.9300,1)" font-size="24" fill="#d1d4dc" stroke="#d1d4dc" stroke-width="0.45">15</text>
<rect x="1212.0" y="1581.6" width="2" height="6.5" fill="#2e323f"/>
<text transform="translate(1200.61,1619.80) scale(0.9300,1)" font-size="24" fill="#d1d4dc" stroke="#d1d4dc" stroke-width="0.45">22</text>
<rect x="1428.0" y="1581.6" width="2" height="6.5" fill="#2e323f"/>
<text transform="translate(1416.61,1619.80) scale(0.9300,1)" font-size="24" fill="#d1d4dc" stroke="#d1d4dc" stroke-width="0.45">29</text>
<rect x="1643.0" y="1581.6" width="2" height="6.5" fill="#2e323f"/>
<text transform="translate(1637.81,1619.80) scale(0.9300,1)" font-size="24" fill="#d1d4dc" stroke="#d1d4dc" stroke-width="0.45">5</text>
<rect x="1858.0" y="1581.6" width="2" height="6.5" fill="#2e323f"/>
<text transform="translate(1846.61,1619.80) scale(0.9300,1)" font-size="24" fill="#d1d4dc" stroke="#d1d4dc" stroke-width="0.45">12</text>
<rect x="2074.0" y="1581.6" width="2" height="6.5" fill="#2e323f"/>
<text transform="translate(2062.61,1619.80) scale(0.9300,1)" font-size="24" fill="#d1d4dc" stroke="#d1d4dc" stroke-width="0.45">19</text>
<rect x="2289.0" y="1581.6" width="2" height="6.5" fill="#2e323f"/>
<text transform="translate(2277.61,1619.80) scale(0.9300,1)" font-size="24" fill="#d1d4dc" stroke="#d1d4dc" stroke-width="0.45">26</text>
<rect x="2473.0" y="1581.6" width="2" height="6.5" fill="#2e323f"/>
<text transform="translate(2456.56,1619.80) scale(0.9300,1)" font-size="24" fill="#d1d4dc" stroke="#d1d4dc" stroke-width="0.2" font-weight="bold">9</text>
<text x="2469.44" y="1620.1" font-size="23" font-weight="bold" fill="#d1d4dc" font-family="'Liberation Sans','Noto Sans CJK JP',sans-serif">月</text>
<g stroke="#787b86" stroke-width="2" fill="none"><circle cx="2668" cy="1609.6" r="9"/>
<line x1="2677.0" y1="1609.6" x2="2683.0" y2="1609.6"/>
<line x1="2674.4" y1="1616.0" x2="2678.6" y2="1620.2"/>
<line x1="2668.0" y1="1618.6" x2="2668.0" y2="1624.6"/>
<line x1="2661.6" y1="1616.0" x2="2657.4" y2="1620.2"/>
<line x1="2659.0" y1="1609.6" x2="2653.0" y2="1609.6"/>
<line x1="2661.6" y1="1603.2" x2="2657.4" y2="1599.0"/>
<line x1="2668.0" y1="1600.6" x2="2668.0" y2="1594.6"/>
<line x1="2674.4" y1="1603.2" x2="2678.6" y2="1599.0"/>
</g>
<rect x="0" y="99.8" width="254.9" height="48" fill="rgba(25,31,43,0.5)"/>
<rect x="0" y="147.8" width="254.9" height="48" fill="rgba(25,31,43,0.5)"/>
<rect x="0" y="195.8" width="654" height="48" fill="rgba(25,31,43,0.5)"/>
<rect x="0" y="638" width="157" height="46" fill="rgba(25,31,43,0.5)"/>
<rect x="0" y="1267" width="556" height="48" fill="rgba(25,31,43,0.5)"/>
<text transform="translate(10.90,37.60) scale(1.0304,1)" font-size="32" fill="#d1d4dc" stroke="#d1d4dc" stroke-width="0.45">bitbank</text>
<circle cx="129.7" cy="21.7" r="2.2" fill="#5d606b"/>
<text transform="translate(145.50,37.60) scale(0.6194,1)" font-size="32" fill="#d1d4dc" stroke="#d1d4dc" stroke-width="0.45">1</text>
<text transform="translate(161.50,36.60) scale(0.9,1)" font-size="31" font-weight="300" fill="#d1d4dc" stroke="#d1d4dc" stroke-width="0.4" font-family="'Liberation Sans','Noto Sans CJK JP',sans-serif">日</text>
<circle cx="202" cy="27.7" r="2.2" fill="#5d606b"/>
<text transform="translate(216.20,37.60) scale(1.0528,1)" font-size="32" fill="#d1d4dc" stroke="#d1d4dc" stroke-width="0.45">btc_jpy</text>
<circle cx="371.2" cy="26.1" r="18" fill="rgba(0,150,136,0.22)"/><circle cx="371.2" cy="26.1" r="8" fill="#009688"/>
<text x="421.5" y="36.1" font-size="25.5" font-weight="300" fill="#d1d4dc" stroke="#d1d4dc" stroke-width="0.36" font-family="'Liberation Sans','Noto Sans CJK JP',sans-serif">始値</text>
<text transform="translate(477.50,35.60) scale(0.9170,1)" font-size="26" fill="#009688" stroke="#009688" stroke-width="0.45">10120584</text>
<text x="597.3" y="36.1" font-size="25.5" font-weight="300" fill="#d1d4dc" stroke="#d1d4dc" stroke-width="0.36" font-family="'Liberation Sans','Noto Sans CJK JP',sans-serif">高値</text>
<text transform="translate(652.40,35.60) scale(0.9205,1)" font-size="26" fill="#009688" stroke="#009688" stroke-width="0.45">10158000</text>
<text x="771.7" y="36.1" font-size="25.5" font-weight="300" fill="#d1d4dc" stroke="#d1d4dc" stroke-width="0.36" font-family="'Liberation Sans','Noto Sans CJK JP',sans-serif">安値</text>
<text transform="translate(826.90,35.60) scale(0.9222,1)" font-size="26" fill="#009688" stroke="#009688" stroke-width="0.45">10058377</text>
<text x="946.7" y="36.1" font-size="25.5" font-weight="300" fill="#d1d4dc" stroke="#d1d4dc" stroke-width="0.36" font-family="'Liberation Sans','Noto Sans CJK JP',sans-serif">終値</text>
<text transform="translate(1002.40,35.60) scale(0.9213,1)" font-size="26" fill="#009688" stroke="#009688" stroke-width="0.45">10128000</text>
<text transform="translate(1123.00,35.60) scale(0.9034,1)" font-size="26" fill="#009688" stroke="#009688" stroke-width="0.45">+7417</text>
<text transform="translate(1199.00,35.60) scale(0.9123,1)" font-size="26" fill="#009688" stroke="#009688" stroke-width="0.45">(+0.07%)</text>
<text transform="translate(10.90,84.70) scale(1.0015,1)" font-size="25" fill="#d1d4dc" stroke="#d1d4dc" stroke-width="0.45">Volume</text>
<text transform="translate(113.00,84.70) scale(0.8108,1)" font-size="25" fill="#009688" stroke="#009688" stroke-width="0.45">31</text>
<text transform="translate(10.90,132.80) scale(0.8461,1)" font-size="25" fill="#d1d4dc" stroke="#d1d4dc" stroke-width="0.45">EMA</text>
<text transform="translate(75.20,132.80) scale(0.9681,1)" font-size="25" fill="#2196f3" stroke="#2196f3" stroke-width="0.45">10224612.6441</text>
<text transform="translate(10.90,181.30) scale(0.8461,1)" font-size="25" fill="#d1d4dc" stroke="#d1d4dc" stroke-width="0.45">EMA</text>
<text transform="translate(75.20,181.30) scale(0.9959,1)" font-size="25" fill="#ffeb3b" stroke="#ffeb3b" stroke-width="0.45">10105117.0430</text>
<text transform="translate(10.90,228.90) scale(1.0300,1)" font-size="25" fill="#d1d4dc" stroke="#d1d4dc" stroke-width="0.45">Ichimoku</text>
<text transform="translate(133.70,228.90) scale(0.9738,1)" font-size="25" fill="#4caf50" stroke="#4caf50" stroke-width="0.45">10128000.0000</text>
<text transform="translate(316.50,228.90) scale(0.9864,1)" font-size="25" fill="#a5d6a7" stroke="#a5d6a7" stroke-width="0.45">9650753.5000</text>
<text transform="translate(487.80,228.90) scale(0.9908,1)" font-size="25" fill="#ef9a9a" stroke="#ef9a9a" stroke-width="0.45">9945953.0000</text>
<text transform="translate(10.40,667.60) scale(0.8512,1)" font-size="25" fill="#d1d4dc" stroke="#d1d4dc" stroke-width="0.45">CCI</text>
<text transform="translate(65.80,667.60) scale(0.9745,1)" font-size="25" fill="#d9cc50" stroke="#d9cc50" stroke-width="0.45">−9.3339</text>
<text transform="translate(10.40,985.70) scale(0.9928,1)" font-size="25" fill="#d1d4dc" stroke="#d1d4dc" stroke-width="0.45">Fisher</text>
<text transform="translate(96.10,985.70) scale(1.0105,1)" font-size="25" fill="#2196f3" stroke="#2196f3" stroke-width="0.45">0.1724</text>
<text transform="translate(185.90,985.70) scale(1.0052,1)" font-size="25" fill="#ff6d00" stroke="#ff6d00" stroke-width="0.45">0.4476</text>
<text transform="translate(10.80,1303.60) scale(0.8638,1)" font-size="25" fill="#d1d4dc" stroke="#d1d4dc" stroke-width="0.45">MACD</text>
<text transform="translate(92.70,1303.60) scale(0.9773,1)" font-size="25" fill="#ff5252" stroke="#ff5252" stroke-width="0.45">−12406.2625</text>
<text transform="translate(251.00,1303.60) scale(0.9836,1)" font-size="25" fill="#2196f3" stroke="#2196f3" stroke-width="0.45">105602.6817</text>
<text transform="translate(408.60,1303.60) scale(0.9901,1)" font-size="25" fill="#ff6d00" stroke="#ff6d00" stroke-width="0.45">118008.9442</text>
<rect x="11" y="248.9" width="56" height="40.4" rx="4.5" fill="rgba(25,31,43,0.82)" stroke="#343845" stroke-width="2"/>
<polyline points="31.3,273.8 39,266.4 46.7,273.8" fill="none" stroke="#d1d4dc" stroke-width="2.6"/>
<circle cx="39.1" cy="1534.1" r="32" fill="#2e323f"/>
<g fill="#2a98ff"><circle cx="24" cy="1539" r="7"/><circle cx="35.3" cy="1528" r="7.8"/><circle cx="51.2" cy="1536" r="10"/><rect x="24" y="1533" width="27.2" height="13"/></g>
<polyline points="18.6,1540.8 33.7,1529.8 44.5,1539.5 54.4,1529.5" fill="none" stroke="#2e323f" stroke-width="2.6"/>
<circle cx="33.7" cy="1529.8" r="3.1" fill="#2e323f"/><circle cx="44.5" cy="1539.5" r="3.1" fill="#2e323f"/>
</svg></body></html>
